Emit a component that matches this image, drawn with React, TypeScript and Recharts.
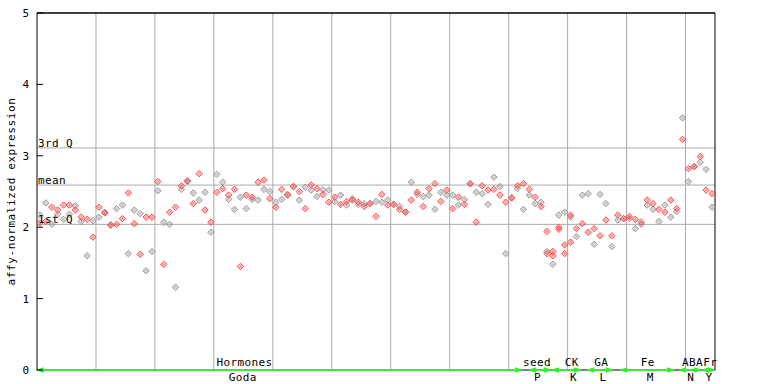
import { ScatterChart, Scatter, XAxis, YAxis, ReferenceLine, ReferenceDot } from "recharts";

// per-sample expression values (115 samples)
const grayValues = [
  2.17, 2.34, 2.04, 2.18, 2.11, 2.18, 2.30, 2.08, 1.60, 2.09,
  2.14, 2.21, 2.03, 2.26, 2.31, 1.63, 2.24, 2.19, 1.39, 1.66,
  2.51, 2.07, 2.04, 1.16, 2.53, 2.64, 2.48, 2.38, 2.49, 1.93,
  2.74, 2.63, 2.39, 2.25, 2.42, 2.26, 2.39, 2.38, 2.53, 2.50,
  2.35, 2.39, 2.46, 2.57, 2.38, 2.56, 2.52, 2.43, 2.52, 2.52,
  2.36, 2.45, 2.31, 2.40, 2.32, 2.33, 2.33, 2.36, 2.35, 2.38,
  2.32, 2.29, 2.21, 2.63, 2.46, 2.43, 2.45, 2.25, 2.49, 2.45,
  2.45, 2.31, 2.39, 2.61, 2.49, 2.47, 2.32, 2.70, 2.57, 1.63,
  2.41, 2.54, 2.25, 2.45, 2.33, 2.35, 1.66, 1.48, 2.17, 2.21,
  2.14, 1.87, 2.45, 2.47, 1.76, 2.46, 2.33, 1.73, 2.10, 2.12,
  2.12, 1.98, 2.04, 2.31, 2.25, 2.08, 2.31, 2.14, 2.22, 3.53,
  2.64, 2.85, 2.91, 2.81, 2.28,
];
const redValues = [
  2.06, 2.08, 2.28, 2.24, 2.31, 2.31, 2.24, 2.14, 2.11, 1.86,
  2.28, 2.20, 2.03, 2.04, 2.12, 2.48, 2.05, 1.62, 2.14, 2.14,
  2.64, 1.48, 2.21, 2.28, 2.58, 2.65, 2.33, 2.75, 2.24, 2.07,
  2.49, 2.54, 2.45, 2.53, 1.45, 2.45, 2.42, 2.63, 2.66, 2.40,
  2.28, 2.53, 2.45, 2.57, 2.50, 2.26, 2.59, 2.54, 2.46, 2.35,
  2.42, 2.32, 2.36, 2.38, 2.35, 2.29, 2.33, 2.15, 2.46, 2.31,
  2.32, 2.25, 2.21, 2.38, 2.49, 2.29, 2.54, 2.61, 2.36, 2.52,
  2.26, 2.42, 2.32, 2.61, 2.07, 2.58, 2.52, 2.53, 2.45, 2.35,
  2.41, 2.58, 2.61, 2.53, 2.42, 2.29, 1.94, 1.66, 1.97, 1.75,
  2.17, 1.98, 2.05, 1.93, 1.98, 1.88, 2.10, 1.88, 2.17, 2.12,
  2.15, 2.11, 2.07, 2.38, 2.33, 2.25, 2.21, 2.38, 2.26, 3.23,
  2.82, 2.85, 2.99, 2.52, 2.47,
];
// a few samples show a third replicate
const extraIndex = [86, 87, 88, 89, 90];
const extraValues = [1.63, 1.60, 2.00, 1.63, 1.79];

const yTicks = [0, 1, 2, 3, 4, 5];
const gridX = [10, 20, 30, 40, 50, 60, 70, 80, 90, 100, 110];
const statLabels = ["3rd Q", "mean", "1st Q"];
const statValues = [3.11, 2.59, 2.04];

// bottom category bars
const segStart = [0.1, 83.6, 87.5, 93.5, 99.1, 109.1, 113.0];
const segEnd = [82.1, 87.0, 92.1, 97.5, 107.9, 112.5, 114.8];
const topLabels = ["Hormones", "seed", "CK", "GA", "Fe", "ABA", "Fr"];
const topLabelX = [35.2, 84.8, 90.7, 95.7, 103.6, 111.2, 114.2];
const bottomLabels = ["Goda", "P", "K", "L", "M", "N", "Y"];
const bottomLabelX = [34.9, 84.9, 91.0, 96.0, 104.0, 110.9, 114.0];

const GRAY = "#999999";
const RED = "#ff4a4a";
const GREEN = "#33ee33";
const FONT = "'DejaVu Sans Mono', monospace";

const grayData = grayValues.map((v, i) => ({ x: i + 0.5, y: v }));
const redData = redValues.map((v, i) => ({ x: i + 0.5, y: v }));
const extraData = extraIndex.map((i, k) => ({ x: i + 0.5, y: extraValues[k] }));

const diamond = (color: string) => (p: any) => {
  const { cx, cy } = p;
  if (cx == null || cy == null) return <g />;
  const r = 3.2;
  return (
    <g>
      <polygon
        points={`${cx},${cy - r} ${cx + r},${cy} ${cx},${cy + r} ${cx - r},${cy}`}
        fill={color}
        fillOpacity={0.35}
        stroke={color}
        strokeWidth={1}
      />
      <rect x={cx - 0.5} y={cy - 0.5} width={1} height={1} fill={color} />
    </g>
  );
};

const LeftTick = (p: any) => (
  <g>
    <text x={p.x} y={p.y} dy={4} textAnchor="end" fontFamily={FONT} fontSize={11} fill="#000">
      {p.payload.value}
    </text>
    <line x1={p.x + 8} y1={p.y} x2={p.x + 14} y2={p.y} stroke="#000" />
  </g>
);

const RightTick = (p: any) => (
  <line x1={p.x - 14} y1={p.y} x2={p.x - 8} y2={p.y} stroke="#000" />
);

const segmentShape = (p: any) => {
  const { x1, x2, y1 } = p;
  const y = y1;
  return (
    <g>
      <line x1={x1} y1={y} x2={x2} y2={y} stroke={GREEN} strokeWidth={2} />
      <polyline points={`${x1 + 6},${y - 2} ${x1},${y} ${x1 + 6},${y + 2}`} fill="none" stroke={GREEN} strokeWidth={1.5} />
      <polyline points={`${x2 - 6},${y - 2} ${x2},${y} ${x2 - 6},${y + 2}`} fill="none" stroke={GREEN} strokeWidth={1.5} />
    </g>
  );
};

const textAt = (label: string, dy: number) => (p: any) => (
  <text x={p.cx} y={p.cy + dy} textAnchor="middle" fontFamily={FONT} fontSize={11} letterSpacing={0.4} fill="#000">
    {label}
  </text>
);

export default function App() {
  return (
    <div style={{ position: "absolute", left: 0, top: 0, width: 768, height: 384, background: "#fff" }}>
      <ScatterChart width={768} height={384} margin={{ top: 13, right: 0, bottom: 14, left: 0 }}>
        <XAxis type="number" dataKey="x" domain={[0, 115]} hide />
        <YAxis
          yAxisId="left"
          type="number"
          dataKey="y"
          domain={[0, 5]}
          ticks={yTicks}
          width={37}
          tickSize={0}
          tickMargin={8}
          tickLine={false}
          axisLine={{ stroke: "#000" }}
          tick={<LeftTick />}
          label={{
            value: "affy-normalized expression",
            angle: -90,
            position: "insideLeft",
            offset: 11,
            style: { fontFamily: FONT, fontSize: 11, letterSpacing: 0.6, fill: "#000", textAnchor: "middle" },
          }}
        />
        <YAxis
          yAxisId="right"
          orientation="right"
          type="number"
          domain={[0, 5]}
          ticks={yTicks}
          width={53}
          tickSize={0}
          tickMargin={8}
          tickLine={false}
          axisLine={{ stroke: "#000" }}
          tick={<RightTick />}
        />
        {gridX.map((x) => (
          <ReferenceLine key={"g" + x} yAxisId="left" x={x} stroke="#aaaaaa" strokeWidth={1} />
        ))}
        {statValues.map((v, k) => (
          <ReferenceLine
            key={"s" + k}
            yAxisId="left"
            y={v}
            stroke="#aaaaaa"
            strokeWidth={1}
            label={{
              value: statLabels[k],
              position: "insideBottomLeft",
              offset: 1,
              style: { fontFamily: FONT, fontSize: 11, letterSpacing: 0.4, fill: "#000" },
            }}
          />
        ))}
        <ReferenceLine yAxisId="left" y={5} stroke="#000" strokeWidth={1.5} />
        <ReferenceLine yAxisId="left" y={0} stroke="#000" strokeWidth={1} />
        <Scatter yAxisId="left" data={grayData} shape={diamond(GRAY)} isAnimationActive={false} />
        <Scatter yAxisId="left" data={redData} shape={diamond(RED)} isAnimationActive={false} />
        <Scatter yAxisId="left" data={extraData} shape={diamond(RED)} isAnimationActive={false} />
        {segStart.map((s, k) => (
          <ReferenceLine
            key={"seg" + k}
            yAxisId="left"
            segment={[{ x: s, y: 0 }, { x: segEnd[k], y: 0 }]}
            shape={segmentShape}
            ifOverflow="visible"
          />
        ))}
        {topLabels.map((t, k) => (
          <ReferenceDot key={"t" + k} yAxisId="left" x={topLabelX[k]} y={0} r={0} shape={textAt(t, -4)} ifOverflow="visible" />
        ))}
        {bottomLabels.map((t, k) => (
          <ReferenceDot key={"b" + k} yAxisId="left" x={bottomLabelX[k]} y={0} r={0} shape={textAt(t, 11)} ifOverflow="visible" />
        ))}
      </ScatterChart>
    </div>
  );
}
